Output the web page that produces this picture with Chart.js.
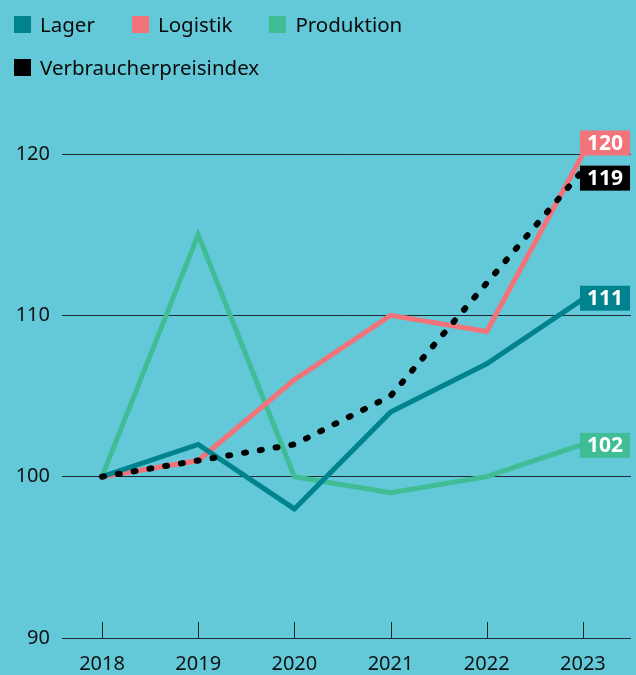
<!DOCTYPE html>
<html>
<head>
<meta charset="utf-8">
<script src="https://cdn.jsdelivr.net/npm/chart.js@4/dist/chart.umd.min.js"></script>
<style>
  html, body { margin: 0; padding: 0; background: #63C9D8; }
  #wrap { position: relative; width: 636px; height: 675px; }
  #chart { position: absolute; left: 0; top: 0; }
  #legend { position: absolute; left: 14px; top: 16px; width: 420px; display: flex; flex-wrap: wrap;
            column-gap: 37px; row-gap: 26px; font-family: "Noto Sans", sans-serif; font-size: 20.5px; color: #0a0a0a; }
  .item { display: flex; align-items: center; height: 17px; line-height: 17px; white-space: nowrap; }
  .sw { width: 17px; height: 17px; margin-right: 9px; flex: none; }
</style>
</head>
<body>
<div id="wrap">
  <canvas id="chart" width="636" height="675"></canvas>
  <div id="legend"></div>
</div>
<script>
// ---- data ----
const years = [2018, 2019, 2020, 2021, 2022, 2023];
const lager = [100, 102, 98, 104, 107, 111];
const logistik = [100, 101, 106, 110, 109, 120];
const produktion = [100, 115, 100, 99, 100, 102];
const vpi = [100, 101, 102, 105, 112, 119];
const seriesNames = ["Lager", "Logistik", "Produktion", "Verbraucherpreisindex"];
const yTicks = [90, 100, 110, 120];

// ---- styles ----
const colors = ["#00838F", "#F2737A", "#40BD95", "#000000"];
const FONT = '"Noto Sans", sans-serif';

// legend (HTML)
const legendEl = document.getElementById('legend');
seriesNames.forEach((n, i) => {
  const it = document.createElement('div'); it.className = 'item';
  const sw = document.createElement('div'); sw.className = 'sw'; sw.style.background = colors[i];
  const tx = document.createElement('span'); tx.textContent = n;
  it.appendChild(sw); it.appendChild(tx); legendEl.appendChild(it);
});

const pts = arr => years.map((y, i) => ({ x: y, y: arr[i] }));

const endLabels = {
  id: 'endLabels',
  afterDatasetsDraw(chart) {
    const ctx = chart.ctx;
    const right = chart.chartArea.right;
    ctx.save();
    ctx.font = 'bold 21px ' + FONT;
    ctx.textBaseline = 'middle';
    ctx.textAlign = 'center';
    chart.data.datasets.forEach((ds, i) => {
      const meta = chart.getDatasetMeta(i);
      const p = meta.data[meta.data.length - 1];
      const val = ds.data[ds.data.length - 1].y;
      const txt = String(val);
      const w = ctx.measureText(txt).width + 14;
      const h = 25;
      const cy = p.y + (ds.labelOffset || 0);
      const x0 = right - 1 - w;
      ctx.fillStyle = ds.borderColor;
      ctx.fillRect(x0, cy - h / 2, w, h);
      ctx.fillStyle = '#ffffff';
      ctx.fillText(txt, x0 + w / 2, cy + 1);
    });
    ctx.restore();
  }
};

const xTickMarks = {
  id: 'xTickMarks',
  beforeDatasetsDraw(chart) {
    const ctx = chart.ctx, xs = chart.scales.x, bottom = chart.chartArea.bottom;
    ctx.save();
    ctx.strokeStyle = '#222';
    ctx.lineWidth = 1;
    years.forEach(y => {
      const x = Math.round(xs.getPixelForValue(y)) + 0.5;
      ctx.beginPath(); ctx.moveTo(x, bottom); ctx.lineTo(x, bottom - 16); ctx.stroke();
    });
    ctx.restore();
  }
};

new Chart(document.getElementById('chart'), {
  type: 'line',
  data: {
    datasets: [
      { label: seriesNames[0], data: pts(lager), borderColor: colors[0], borderWidth: 5, order: 1, labelOffset: -1 },
      { label: seriesNames[1], data: pts(logistik), borderColor: colors[1], borderWidth: 5, order: 2, labelOffset: -11 },
      { label: seriesNames[2], data: pts(produktion), borderColor: colors[2], borderWidth: 5, order: 3, labelOffset: 1 },
      { label: seriesNames[3], data: pts(vpi), borderColor: colors[3], borderWidth: 6, borderDash: [2, 14], borderCapStyle: 'round', order: 0, labelOffset: 8 }
    ]
  },
  options: {
    responsive: false,
    animation: false,
    clip: false,
    layout: { padding: { top: 154, right: 5, left: 0, bottom: 0 } },
    elements: { point: { radius: 0 }, line: { tension: 0, fill: false } },
    plugins: { legend: { display: false }, tooltip: { enabled: false } },
    scales: {
      x: {
        type: 'linear',
        min: 2017.584, max: 2023.5,
        afterBuildTicks: s => { s.ticks = years.map(v => ({ value: v })); },
        afterFit: s => { s.height = 37; },
        grid: { display: false },
        border: { display: false },
        ticks: { color: '#111', font: { family: FONT, size: 20 }, padding: 6, callback: v => String(v), maxRotation: 0 }
      },
      y: {
        min: 90, max: 120,
        afterBuildTicks: s => { s.ticks = yTicks.map(v => ({ value: v })); },
        afterFit: s => { s.width = 62; },
        grid: { color: '#1b2b30', lineWidth: 1, drawTicks: false },
        border: { display: false },
        ticks: { color: '#111', font: { family: FONT, size: 20 }, padding: 12 }
      }
    }
  },
  plugins: [xTickMarks, endLabels]
});
</script>
</body>
</html>
